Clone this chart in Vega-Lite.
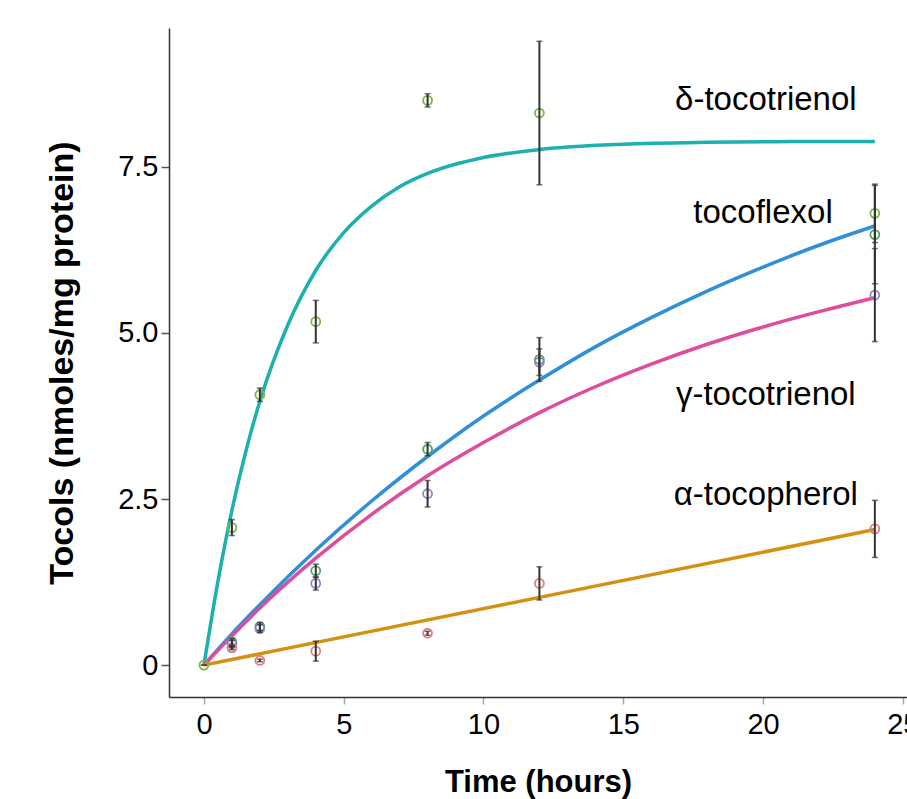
{
  "$schema": "https://vega.github.io/schema/vega-lite/v6.json",
  "autosize": {"type": "none"},
  "width": 738,
  "height": 669,
  "padding": {"left": 169, "top": 28, "right": 0, "bottom": 102},
  "background": "white",
  "config": {
    "view": {"stroke": null},
    "font": "Liberation Sans",
    "axis": {"grid": false}
  },
  "datasets": {
    "curves": [
      {"s": "delta", "t": 0, "v": 0}, {"s": "delta", "t": 0.5, "v": 1.26}, {"s": "delta", "t": 1, "v": 2.33},
      {"s": "delta", "t": 1.5, "v": 3.22}, {"s": "delta", "t": 2, "v": 3.97}, {"s": "delta", "t": 3, "v": 5.12},
      {"s": "delta", "t": 4, "v": 5.94}, {"s": "delta", "t": 5, "v": 6.51}, {"s": "delta", "t": 6, "v": 6.91},
      {"s": "delta", "t": 7, "v": 7.2}, {"s": "delta", "t": 8, "v": 7.4}, {"s": "delta", "t": 10, "v": 7.64},
      {"s": "delta", "t": 12, "v": 7.76}, {"s": "delta", "t": 15, "v": 7.84}, {"s": "delta", "t": 18, "v": 7.87},
      {"s": "delta", "t": 21, "v": 7.88}, {"s": "delta", "t": 24, "v": 7.88},
      {"s": "flex", "t": 0, "v": 0}, {"s": "flex", "t": 1, "v": 0.47}, {"s": "flex", "t": 2, "v": 0.91},
      {"s": "flex", "t": 4, "v": 1.73}, {"s": "flex", "t": 6, "v": 2.47}, {"s": "flex", "t": 8, "v": 3.14},
      {"s": "flex", "t": 10, "v": 3.75}, {"s": "flex", "t": 12, "v": 4.29}, {"s": "flex", "t": 14, "v": 4.79},
      {"s": "flex", "t": 16, "v": 5.23}, {"s": "flex", "t": 18, "v": 5.63}, {"s": "flex", "t": 20, "v": 5.99},
      {"s": "flex", "t": 22, "v": 6.32}, {"s": "flex", "t": 24, "v": 6.61},
      {"s": "gamma", "t": 0, "v": 0}, {"s": "gamma", "t": 1, "v": 0.44}, {"s": "gamma", "t": 2, "v": 0.86},
      {"s": "gamma", "t": 4, "v": 1.61}, {"s": "gamma", "t": 6, "v": 2.27}, {"s": "gamma", "t": 8, "v": 2.85},
      {"s": "gamma", "t": 10, "v": 3.35}, {"s": "gamma", "t": 12, "v": 3.8}, {"s": "gamma", "t": 14, "v": 4.19},
      {"s": "gamma", "t": 16, "v": 4.53}, {"s": "gamma", "t": 18, "v": 4.83}, {"s": "gamma", "t": 20, "v": 5.09},
      {"s": "gamma", "t": 22, "v": 5.32}, {"s": "gamma", "t": 24, "v": 5.53},
      {"s": "alpha", "t": 0, "v": 0}, {"s": "alpha", "t": 12, "v": 1.02}, {"s": "alpha", "t": 24, "v": 2.04}
    ],
    "points": [
      {"s": "delta", "t": 0, "v": 0, "lo": 0, "hi": 0},
      {"s": "delta", "t": 1, "v": 2.07, "lo": 1.95, "hi": 2.19},
      {"s": "delta", "t": 2, "v": 4.07, "lo": 3.97, "hi": 4.17},
      {"s": "delta", "t": 4, "v": 5.17, "lo": 4.85, "hi": 5.49},
      {"s": "delta", "t": 8, "v": 8.5, "lo": 8.4, "hi": 8.6},
      {"s": "delta", "t": 12, "v": 8.31, "lo": 7.23, "hi": 9.39},
      {"s": "delta", "t": 24, "v": 6.8, "lo": 6.36, "hi": 7.24},
      {"s": "flex", "t": 1, "v": 0.35, "lo": 0.3, "hi": 0.4},
      {"s": "flex", "t": 2, "v": 0.58, "lo": 0.52, "hi": 0.64},
      {"s": "flex", "t": 4, "v": 1.42, "lo": 1.32, "hi": 1.52},
      {"s": "flex", "t": 8, "v": 3.25, "lo": 3.15, "hi": 3.35},
      {"s": "flex", "t": 12, "v": 4.6, "lo": 4.27, "hi": 4.93},
      {"s": "flex", "t": 24, "v": 6.48, "lo": 5.74, "hi": 7.22},
      {"s": "gamma", "t": 1, "v": 0.32, "lo": 0.27, "hi": 0.37},
      {"s": "gamma", "t": 2, "v": 0.55, "lo": 0.49, "hi": 0.61},
      {"s": "gamma", "t": 4, "v": 1.23, "lo": 1.13, "hi": 1.33},
      {"s": "gamma", "t": 8, "v": 2.58, "lo": 2.38, "hi": 2.78},
      {"s": "gamma", "t": 12, "v": 4.56, "lo": 4.36, "hi": 4.76},
      {"s": "gamma", "t": 24, "v": 5.57, "lo": 4.87, "hi": 6.27},
      {"s": "alpha", "t": 1, "v": 0.26, "lo": 0.23, "hi": 0.29},
      {"s": "alpha", "t": 2, "v": 0.07, "lo": 0.05, "hi": 0.09},
      {"s": "alpha", "t": 4, "v": 0.21, "lo": 0.06, "hi": 0.36},
      {"s": "alpha", "t": 8, "v": 0.48, "lo": 0.45, "hi": 0.51},
      {"s": "alpha", "t": 12, "v": 1.23, "lo": 0.98, "hi": 1.48},
      {"s": "alpha", "t": 24, "v": 2.05, "lo": 1.62, "hi": 2.48}
    ],
    "labels": [
      {"t": 20.1, "v": 8.5, "text": "δ-tocotrienol"},
      {"t": 20.0, "v": 6.8, "text": "tocoflexol"},
      {"t": 20.1, "v": 4.07, "text": "γ-tocotrienol"},
      {"t": 20.1, "v": 2.56, "text": "α-tocopherol"}
    ]
  },
  "encoding": {
    "x": {
      "field": "t", "type": "quantitative",
      "scale": {"domain": [-1.25, 25.15], "nice": false, "zero": false},
      "axis": {
        "values": [0, 5, 10, 15, 20, 25],
        "title": "Time (hours)",
        "titleFontSize": 31, "titleFontWeight": "bold", "titleColor": "black", "titlePadding": 28,
        "labelFontSize": 29, "labelColor": "black", "labelPadding": 6, "labelFlush": false,
        "domainColor": "#333333", "domainWidth": 1.5,
        "tickColor": "#aaaaaa", "tickSize": 7, "tickWidth": 1.5
      }
    },
    "y": {
      "field": "v", "type": "quantitative",
      "scale": {"domain": [-0.48, 9.59], "nice": false, "zero": false},
      "axis": {
        "values": [0, 2.5, 5, 7.5],
        "labelExpr": "datum.value == 0 ? '0' : format(datum.value, '.1f')",
        "title": "Tocols (nmoles/mg protein)",
        "titleFontSize": 34, "titleFontWeight": "bold", "titleColor": "black", "titlePadding": 38,
        "labelFontSize": 29, "labelColor": "black", "labelPadding": 3,
        "domainColor": "#333333", "domainWidth": 1.5,
        "tickColor": "#555555", "tickSize": 8, "tickWidth": 1.5
      }
    }
  },
  "layer": [
    {
      "data": {"name": "curves"},
      "mark": {"type": "line", "strokeWidth": 3.5, "interpolate": "monotone"},
      "encoding": {
        "detail": {"field": "s"},
        "color": {
          "field": "s", "type": "nominal", "legend": null,
          "scale": {"domain": ["delta", "flex", "gamma", "alpha"], "range": ["#1cb0ae", "#2f8fd8", "#df4c9c", "#d4900f"]}
        }
      }
    },
    {
      "data": {"name": "points"},
      "mark": {"type": "point", "shape": "circle", "filled": false, "size": 80, "strokeWidth": 1.8, "opacity": 1},
      "encoding": {
        "stroke": {
          "field": "s", "type": "nominal", "legend": null,
          "scale": {"domain": ["delta", "flex", "gamma", "alpha"], "range": ["#7cb548", "#4aa862", "#9a80c8", "#e77c7c"]}
        }
      }
    },
    {
      "data": {"name": "points"},
      "mark": {"type": "rule", "color": "#333333", "strokeWidth": 2},
      "encoding": {"y": {"field": "lo", "type": "quantitative"}, "y2": {"field": "hi"}}
    },
    {
      "data": {"name": "points"},
      "mark": {"type": "tick", "orient": "horizontal", "color": "#333333", "size": 6, "thickness": 1.5},
      "encoding": {"y": {"field": "lo", "type": "quantitative"}}
    },
    {
      "data": {"name": "points"},
      "mark": {"type": "tick", "orient": "horizontal", "color": "#333333", "size": 6, "thickness": 1.5},
      "encoding": {"y": {"field": "hi", "type": "quantitative"}}
    },
    {
      "data": {"name": "labels"},
      "mark": {"type": "text", "fontSize": 33, "align": "center", "baseline": "middle", "color": "black"},
      "encoding": {"text": {"field": "text"}}
    }
  ]
}
